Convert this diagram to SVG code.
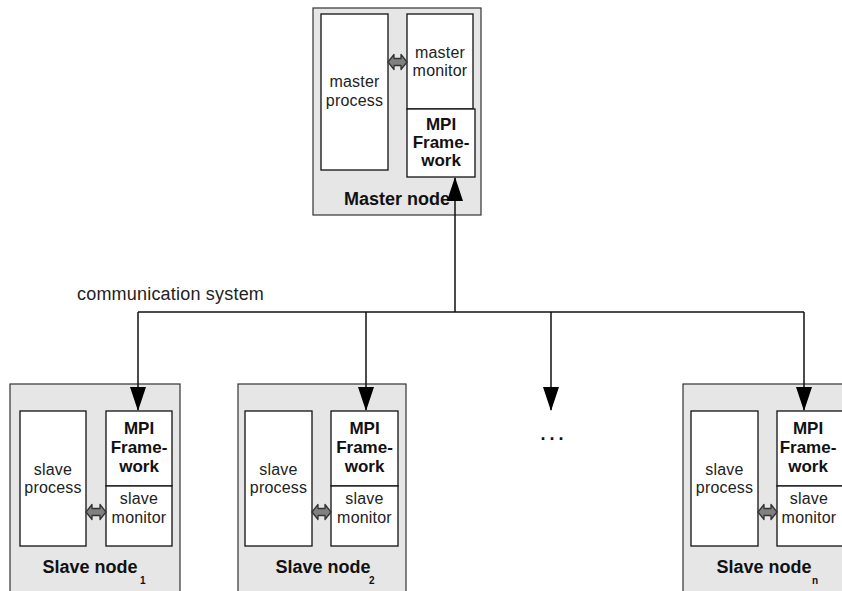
<svg xmlns="http://www.w3.org/2000/svg" width="842" height="591" viewBox="0 0 842 591">
<defs>
<style>
.node{fill:#e6e6e6;stroke:#333;stroke-width:1.2}
.box{fill:#fff;stroke:#111;stroke-width:1.3}
.t{font-family:"Liberation Sans",Arial,sans-serif;font-size:16px;fill:#222;text-anchor:middle;letter-spacing:0.2px}
.b{font-family:"Liberation Sans",Arial,sans-serif;font-size:17px;font-weight:bold;fill:#111;text-anchor:middle}
.lbl{font-family:"Liberation Sans",Arial,sans-serif;font-size:18px;font-weight:bold;fill:#111;text-anchor:middle}
.sub{font-family:"Liberation Sans",Arial,sans-serif;font-size:10px;font-weight:bold;fill:#111}
.dbl{fill:#808080;stroke:#333;stroke-width:1.3;stroke-linejoin:round}
.wire{fill:none;stroke:#111;stroke-width:1.5}
</style>
<marker id="ah" viewBox="0 0 24 16" refX="23" refY="8" markerWidth="24" markerHeight="16" markerUnits="userSpaceOnUse" orient="auto">
<path d="M0,0 L24,8 L0,16 Z" fill="#000"/>
</marker>
</defs>

<g id="master-node">
<rect class="node" x="313" y="8" width="168" height="207"/>
<rect class="box" x="321" y="14" width="67" height="156"/>
<text class="t" x="354.5" y="87">master</text>
<text class="t" x="354.5" y="106">process</text>
<rect class="box" x="407" y="14" width="66" height="95"/>
<text class="t" x="440" y="58">master</text>
<text class="t" x="440" y="76">monitor</text>
<rect class="box" x="407" y="109" width="68" height="68"/>
<text class="b" x="441" y="130">MPI</text>
<text class="b" x="441" y="148">Frame-</text>
<text class="b" x="441" y="166">work</text>
<path class="dbl" d="M388,62 l6,-7.5 v4 h7 v-4 l6,7.5 l-6,7.5 v-4 h-7 v4 Z"/>
<text class="lbl" x="397" y="205">Master node</text>
</g>

<g id="slave-node-1">
<rect class="node" x="10" y="384" width="170" height="220"/>
<rect class="box" x="20" y="411" width="66" height="135"/>
<text class="t" x="53" y="475">slave</text>
<text class="t" x="53" y="493">process</text>
<rect class="box" x="106" y="411" width="66" height="75"/>
<text class="b" x="139" y="434">MPI</text>
<text class="b" x="139" y="453">Frame-</text>
<text class="b" x="139" y="472">work</text>
<rect class="box" x="106" y="486" width="66" height="60"/>
<text class="t" x="139" y="504">slave</text>
<text class="t" x="139" y="523">monitor</text>
<path class="dbl" d="M86,512 l6,-7.5 v4 h8 v-4 l6,7.5 l-6,7.5 v-4 h-8 v4 Z"/>
<text class="lbl" x="90" y="573">Slave node</text>
<text class="sub" x="140" y="584">1</text>
</g>

<g id="slave-node-2">
<rect class="node" x="238" y="384" width="168" height="220"/>
<rect class="box" x="245" y="411" width="67" height="135"/>
<text class="t" x="278.5" y="475">slave</text>
<text class="t" x="278.5" y="493">process</text>
<rect class="box" x="331" y="411" width="67" height="75"/>
<text class="b" x="364.5" y="434">MPI</text>
<text class="b" x="364.5" y="453">Frame-</text>
<text class="b" x="364.5" y="472">work</text>
<rect class="box" x="331" y="486" width="67" height="60"/>
<text class="t" x="364.5" y="504">slave</text>
<text class="t" x="364.5" y="523">monitor</text>
<path class="dbl" d="M312,512 l6,-7.5 v4 h7 v-4 l6,7.5 l-6,7.5 v-4 h-7 v4 Z"/>
<text class="lbl" x="323" y="573">Slave node</text>
<text class="sub" x="369" y="584">2</text>
</g>

<g id="slave-node-n">
<rect class="node" x="683" y="384" width="170" height="220"/>
<rect class="box" x="691" y="411" width="67" height="135"/>
<text class="t" x="724.5" y="475">slave</text>
<text class="t" x="724.5" y="493">process</text>
<rect class="box" x="777" y="411" width="68" height="75"/>
<text class="b" x="808" y="434">MPI</text>
<text class="b" x="808" y="453">Frame-</text>
<text class="b" x="808" y="472">work</text>
<rect class="box" x="777" y="486" width="68" height="60"/>
<text class="t" x="809" y="504">slave</text>
<text class="t" x="809" y="523">monitor</text>
<path class="dbl" d="M758,512 l6,-7.5 v4 h7 v-4 l6,7.5 l-6,7.5 v-4 h-7 v4 Z"/>
<text class="lbl" x="764" y="573">Slave node</text>
<text class="sub" x="812" y="584">n</text>
</g>

<g id="connectors">
<path class="wire" d="M138,312 H804"/>
<path class="wire" d="M455,312 V178" marker-end="url(#ah)"/>
<path class="wire" d="M138,312 V410" marker-end="url(#ah)"/>
<path class="wire" d="M366,312 V410" marker-end="url(#ah)"/>
<path class="wire" d="M551,312 V410" marker-end="url(#ah)"/>
<path class="wire" d="M804,312 V410" marker-end="url(#ah)"/>
</g>

<text class="t" x="77" y="300" style="text-anchor:start;font-size:18px;letter-spacing:0.2px">communication system</text>
<text x="554" y="440" style="font-family:'Liberation Sans',Arial,sans-serif;font-size:18px;font-weight:bold;fill:#111;text-anchor:middle;letter-spacing:4px">...</text>
</svg>
